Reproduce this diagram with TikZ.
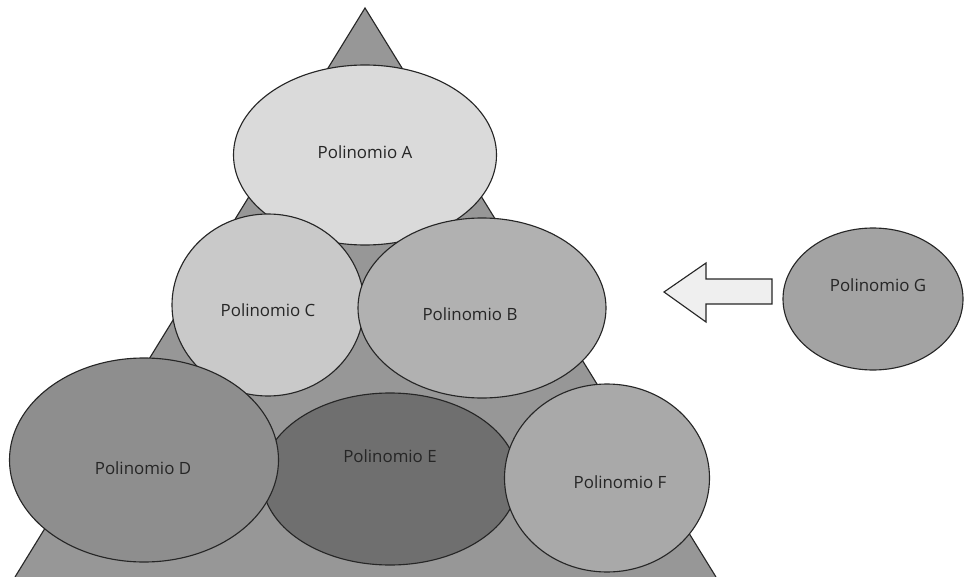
\documentclass[tikz,border=0pt]{standalone}
\usepackage{fontspec}
\setmainfont{Open Sans}
\usepackage{tikz}
\usetikzlibrary{shapes.geometric}
\definecolor{pyr}{HTML}{979797}
\definecolor{polA}{HTML}{DADADA}
\definecolor{polB}{HTML}{B1B1B1}
\definecolor{polC}{HTML}{C9C9C9}
\definecolor{polD}{HTML}{8E8E8E}
\definecolor{polE}{HTML}{6F6F6F}
\definecolor{polF}{HTML}{A9A9A9}
\definecolor{polG}{HTML}{A3A3A3}
\definecolor{arr}{HTML}{EFEFEF}

\begin{document}
\begin{tikzpicture}[x=0.025cm, y=-0.025cm, line width=0.8pt,
  pol/.style={ellipse, draw=black!85, inner sep=0pt},
  lbl/.style={font=\fontsize{12}{14}\selectfont, text=black!85},
  arrowbox/.style={draw=black!85, fill=arr}]
\useasboundingbox (0,0) rectangle (965,577);
% pyramid in the back
\coordinate (apex) at (365,8); \coordinate (bl) at (15,577); \coordinate (br) at (716,577);
\filldraw[fill=pyr, draw=black!85] (bl) -- (apex) -- (br);
\fill[pyr] (bl) -- (br) -- (716,580) -- (15,580) -- cycle;
% the polynomials
\node[pol, fill=polA, minimum width=263*0.025cm, minimum height=180*0.025cm] (pA) at (365,155) {};
\node[lbl] (tA) at (365,152) {Polinomio A};
\node[pol, fill=polC, minimum width=192*0.025cm, minimum height=182*0.025cm] (pC) at (268,305) {};
\node[lbl] (tC) at (268,310) {Polinomio C};
\node[pol, fill=polB, minimum width=248*0.025cm, minimum height=180*0.025cm] (pB) at (482,308) {};
\node[lbl] (tB) at (470,314) {Polinomio B};
\node[pol, fill=polE, minimum width=256*0.025cm, minimum height=172*0.025cm] (pE) at (390,479) {};
\node[lbl] (tE) at (390,456) {Polinomio E};
\node[pol, fill=polD, minimum width=269*0.025cm, minimum height=204*0.025cm] (pD) at (144,460) {};
\node[lbl] (tD) at (143,468) {Polinomio D};
\node[pol, fill=polF, minimum width=205*0.025cm, minimum height=188*0.025cm] (pF) at (607,478) {};
\node[lbl] (tF) at (620,482) {Polinomio F};
\node[pol, fill=polG, minimum width=180*0.025cm, minimum height=142*0.025cm] (pG) at (873,299) {};
\node[lbl] (tG) at (878,285) {Polinomio G};
% arrow towards the pyramid
\draw[arrowbox] (772,279) -- (706,279) -- (706,263) -- (664,292) -- (706,322) -- (706,304) -- (772,304) -- cycle;
\end{tikzpicture}
\end{document}
